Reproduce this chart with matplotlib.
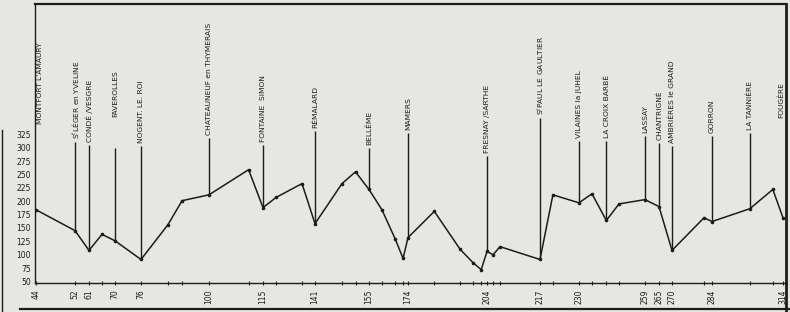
import numpy as np
import matplotlib.pyplot as plt
from matplotlib.lines import Line2D

# profile of the line: kilometre point and altitude (m)
profile_km = [44, 52, 61, 65.5, 70, 76, 85.5, 90.5, 100, 111, 115, 121.5, 134.5, 141,
              148, 151.5, 155, 161.3, 167.7, 171.6, 174, 184, 193.8, 198.7, 201.8, 204,
              205.5, 207.2, 217, 221.3, 230, 235.7, 242, 247.6, 259, 265, 270, 281.2,
              284, 300, 309.7, 314]
profile_alt = [184, 145, 108, 138, 126, 91, 156, 201, 212, 259, 188, 207, 233, 158,
               233, 255, 222, 184, 130, 93, 132, 181, 110, 85, 72, 106,
               100, 115, 91, 212, 197, 214, 164, 195, 203, 190, 108, 169,
               162, 186, 222, 169]

station_names = ["S$^t$LÉGER en YVELINE", "CONDÉ /VESGRE", "FAVEROLLES", "NOGENT. LE. ROI",
                 "CHATEAUNEUF en THYMERAIS", "FONTAINE  SIMON", "RÉMALARD", "BELLÊME",
                 "MAMERS", "FRESNAY /SARTHE", "S$^t$PAUL LE GAULTIER", "VILAINES la JUHEL",
                 "LA CROIX BARBÉ", "LASSAY", "CHANTRIGNÉ", "AMBRIÈRES le GRAND",
                 "GORRON", "LA TANNIÈRE"]
station_km = [52, 61, 70, 76, 100, 115, 141, 155, 174, 204, 217, 230, 242, 259, 265,
              270, 284, 300]
end_names = ["MONTFORT L'AMAURY", "FOUGÈRE"]
end_km = [44, 314]

km_labels = [44, 52, 61, 70, 76, 100, 115, 141, 155, 174, 204, 217, 230, 259, 265,
             270, 284, 314]
alt_ticks = list(range(50, 326, 25))

# where each station post stops, and extra lift of its label (points)
post_top = [311, 306, 300, 304, 319, 306, 332, 300, 328, 285, 356, 313, 313, 322,
            309, 304, 322, 328]
label_lift = [2, 2, 22, 2, 2, 2, 2, 2, 2, 2, 2, 2, 2, 2, 2, 2, 2, 2]
end_base = [345, 355]

# the hand-drawn km axis is not even: km -> pixel column on the sheet
anchor_km = [34, 44, 52, 61, 70, 76, 100, 115, 141, 155, 174, 204, 217, 230, 259,
             265, 270, 284, 314, 324]
anchor_px = [8, 36, 75, 89, 115, 141, 209, 263, 315, 369, 408, 487, 540, 579, 645,
             659, 672, 712, 783, 806]


def km_to_px(x):
    return np.interp(x, anchor_km, anchor_px)


def px_to_km(p):
    return np.interp(p, anchor_px, anchor_km)


W, H = 790, 312
paper = '#e6e6e3'
ink = '#1c1c1c'

fig = plt.figure(figsize=(W / 100, H / 100), dpi=100, facecolor=paper)
left, right, top, bottom = 35, 786, 4, 283
ax = fig.add_axes([left / W, 1 - bottom / H, (right - left) / W, (bottom - top) / H])
ax.set_facecolor(paper)
ax.set_xscale('function', functions=(km_to_px, px_to_km))
ax.set_xlim(px_to_km(left), px_to_km(right))
ax.set_ylim(47, 569)

ax.plot(profile_km, profile_alt, color=ink, lw=1.1, marker='o', ms=1.6)

base_alt = np.interp(station_km, profile_km, profile_alt)
ax.vlines(station_km, base_alt, post_top, color=ink, lw=1.0)

for name, km, y, lift in zip(station_names, station_km, post_top, label_lift):
    ax.annotate(name, (km, y), xytext=(0, lift), textcoords='offset points',
                rotation=90, ha='center', va='bottom', fontsize=5.4, color=ink)
ax.annotate(end_names[0], (end_km[0], end_base[0]), xytext=(3, 0), textcoords='offset points',
            rotation=90, ha='center', va='bottom', fontsize=5.4, color=ink)
ax.annotate(end_names[1], (end_km[1], end_base[1]), xytext=(-1.5, 0), textcoords='offset points',
            rotation=90, ha='center', va='bottom', fontsize=5.4, color=ink)

ax.set_xticks(km_labels)
ax.set_xticklabels([str(k) for k in km_labels], rotation=90, fontsize=5.5, color=ink)
ax.set_xticks([k for k in profile_km if k not in km_labels], minor=True)
ax.tick_params(axis='x', which='both', direction='inout', length=3, width=0.8,
               color=ink, pad=3)
ax.set_yticks(alt_ticks)
ax.set_yticklabels([str(a) for a in alt_ticks], fontsize=5.5, color=ink)
ax.tick_params(axis='y', length=0, pad=3)

for side in ['left', 'bottom', 'top']:
    ax.spines[side].set_color(ink)
    ax.spines[side].set_linewidth(1.0)
ax.spines['top'].set_linewidth(1.6)
ax.spines['right'].set_color(ink)
ax.spines['right'].set_linewidth(2.0)

# sheet border below the axis
fig.add_artist(Line2D([20 / W, 1], [1 - 309 / H, 1 - 309 / H], color=ink, lw=1.6))
fig.add_artist(Line2D([right / W, right / W], [0, 1 - bottom / H], color=ink, lw=2.0))
fig.add_artist(Line2D([2 / W, 2 / W], [0, 1 - 130 / H], color=ink, lw=1.0))

fig.savefig('out.png', dpi=100, facecolor=paper)
